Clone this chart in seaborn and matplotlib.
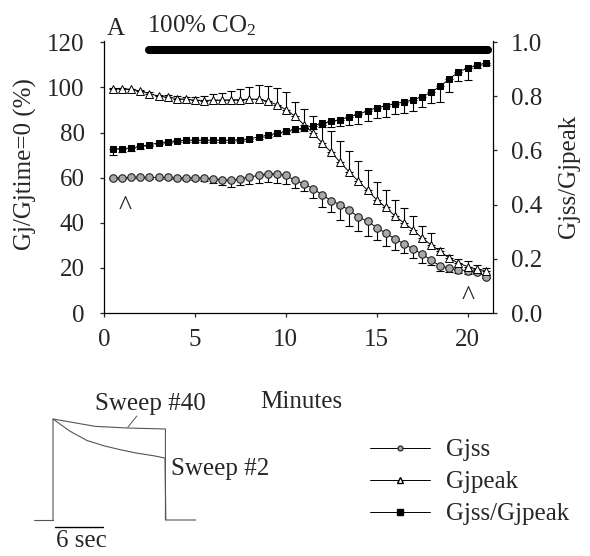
import matplotlib
matplotlib.use("Agg")
import matplotlib.pyplot as plt
from matplotlib.lines import Line2D
import numpy as np
import pandas as pd
import seaborn as sns

sns.set_style("ticks")
plt.rcParams['font.family'] = ['Liberation Serif', 'DejaVu Serif']
plt.rcParams['mathtext.fontset'] = 'custom'
plt.rcParams['mathtext.rm'] = 'Liberation Serif'
plt.rcParams['mathtext.it'] = 'Liberation Serif:italic'

# ---------------- data ----------------
minutes = [0.5, 1.0, 1.5, 2.0, 2.5, 3.0, 3.5, 4.0, 4.5, 5.0,
           5.5, 6.0, 6.5, 7.0, 7.5, 8.0, 8.5, 9.0, 9.5, 10.0,
           10.5, 11.0, 11.5, 12.0, 12.5, 13.0, 13.5, 14.0, 14.5, 15.0,
           15.5, 16.0, 16.5, 17.0, 17.5, 18.0, 18.5, 19.0, 19.5, 20.0,
           20.5, 21.0]
gjss = [60.0, 60.0, 60.2, 60.2, 60.1, 60.1, 60.1, 59.9, 59.9, 59.9,
        59.8, 59.6, 59.1, 58.8, 59.5, 60.3, 61.0, 61.8, 61.8, 61.0,
        58.8, 57.3, 55.1, 52.4, 49.8, 48.0, 45.5, 42.6, 40.6, 37.9,
        35.4, 32.9, 30.7, 28.3, 26.2, 23.3, 20.9, 19.9, 19.1, 18.8,
        18.4, 16.1]
gjss_err = [0.8, 0.6, 0.5, 0.5, 0.5, 0.5, 0.6, 0.7, 0.8, 1.0,
            1.3, 1.8, 2.5, 2.8, 2.8, 3.0, 3.4, 3.9, 4.1, 3.7,
            3.4, 3.4, 3.9, 5.2, 5.2, 6.7, 6.8, 6.4, 6.4, 5.5,
            5.6, 4.9, 4.1, 4.0, 3.9, 1.9, 2.1, 1.8, 1.5, 1.5,
            1.2, 0.8]
gjpeak = [99.5, 99.5, 99.1, 98.4, 97.3, 96.1, 95.7, 95.1, 94.7, 94.4,
          94.2, 94.4, 94.4, 94.5, 94.6, 94.8, 94.8, 93.9, 92.4, 90.2,
          87.3, 83.5, 79.8, 75.4, 71.3, 66.8, 62.4, 58.4, 54.4, 50.2,
          46.8, 43.1, 39.9, 36.9, 33.2, 30.2, 27.3, 24.3, 22.1, 20.6,
          19.4, 18.8]
gjpeak_err = [0.3, 0.3, 0.3, 0.3, 0.5, 0.5, 0.8, 1.0, 1.2, 1.5,
              2.0, 2.5, 3.3, 3.9, 4.7, 5.5, 6.1, 6.7, 7.4, 7.9,
              6.2, 7.0, 7.7, 8.1, 9.3, 9.3, 9.3, 8.9, 8.9, 8.1,
              7.6, 7.1, 6.7, 5.9, 5.5, 5.2, 1.5, 1.5, 2.0, 2.5,
              2.0, 1.0]
ratio = [0.605, 0.607, 0.609, 0.615, 0.621, 0.628, 0.632, 0.636, 0.638, 0.638,
         0.638, 0.638, 0.638, 0.638, 0.640, 0.643, 0.650, 0.656, 0.663, 0.670,
         0.678, 0.683, 0.691, 0.700, 0.707, 0.714, 0.724, 0.734, 0.746, 0.758,
         0.765, 0.773, 0.779, 0.786, 0.799, 0.814, 0.838, 0.863, 0.891, 0.903,
         0.914, 0.923]
ratio_err = [0.020, 0.012, 0.010, 0.008, 0.006, 0.006, 0.006, 0.006, 0.006, 0.006,
             0.006, 0.006, 0.006, 0.006, 0.006, 0.008, 0.008, 0.008, 0.008, 0.010,
             0.010, 0.012, 0.012, 0.015, 0.020, 0.025, 0.030, 0.035, 0.038, 0.039,
             0.040, 0.037, 0.039, 0.039, 0.038, 0.040, 0.059, 0.049, 0.034, 0.044,
             0.010, 0.008]

left_ticks = [0, 20, 40, 60, 80, 100, 120]
right_ticks = [0.0, 0.2, 0.4, 0.6, 0.8, 1.0]
right_ticklabels = ["0.0", "0.2", "0.4", "0.6", "0.8", "1.0"]
x_ticks = [0, 5, 10, 15, 20]

co2_span = [2.5, 21.15]
co2_level = 116.5
caret_x = [1.15, 20.05]
caret_y = [43.8, 4.2]

# inset traces (time in s, normalized current)
base_t = [-2.4, 0.0]
base_v = [0.0, 0.0]
sweep2_t = [0.0, 0.0, 2.15, 4.2, 6.3, 8.4, 10.4, 12.5, 13.9, 14.0, 14.1, 17.7]
sweep2_v = [0.0, 1.0, 0.877, 0.788, 0.735, 0.695, 0.662, 0.636, 0.613, 0.0, 0.0, 0.0]
sweep40_t = [0.0, 5.25, 9.2, 13.95, 13.95]
sweep40_v = [1.0, 0.927, 0.911, 0.901, 0.0]

df = pd.DataFrame({"Minutes": minutes, "Gjss": gjss, "Gjpeak": gjpeak,
                   "ratio": ratio})

W, H = 590, 556
fig = plt.figure(figsize=(W / 100, H / 100), dpi=100)


def fx(px):
    return px / W


def fy(py):
    return 1 - py / H


ax = fig.add_axes([fx(104), fy(313), fx(493) - fx(104), fy(41) - fy(313)])
ax2 = ax.twinx()

lw = 0.7
ax.errorbar(minutes, gjss, yerr=[gjss_err, [0] * len(gjss)], fmt='none',
            ecolor='black', elinewidth=0.8, capsize=3, capthick=0.8, zorder=2)
ax.errorbar(minutes, gjpeak, yerr=[[0] * len(gjpeak), gjpeak_err], fmt='none',
            ecolor='black', elinewidth=0.8, capsize=3, capthick=0.8, zorder=2)
sns.lineplot(data=df, x="Minutes", y="Gjss", ax=ax, color='black', lw=lw,
             marker='o', markersize=5.4, markerfacecolor='#a8a8a8',
             markeredgecolor='#222222', markeredgewidth=0.8, zorder=3)
sns.lineplot(data=df, x="Minutes", y="Gjpeak", ax=ax, color='black', lw=lw,
             marker='^', markersize=5.6, markerfacecolor='white',
             markeredgecolor='black', markeredgewidth=0.7, zorder=3)

ax2.errorbar(minutes, ratio, yerr=[ratio_err, [0] * len(ratio)], fmt='none',
             ecolor='black', elinewidth=0.8, capsize=3, capthick=0.8, zorder=2)
sns.lineplot(data=df, x="Minutes", y="ratio", ax=ax2, color='black', lw=lw,
             marker='s', markersize=5.0, markerfacecolor='black',
             markeredgecolor='black', zorder=3)

# 100% CO2 bar
ax.plot(co2_span, [co2_level, co2_level], color='black', lw=5.8,
        solid_capstyle='round', clip_on=False, zorder=4)

for cx, cy in zip(caret_x, caret_y):
    ax.text(cx, cy, "^", ha='center', va='baseline', fontsize=20)

ax.set_xlim(0, 21.4)
ax.set_ylim(0, 120.6)
ax2.set_ylim(0, 1.004)
ax.set_xticks(x_ticks)
ax.set_xticklabels([str(t) for t in x_ticks])
ax.set_yticks(left_ticks)
ax.set_yticklabels([str(t) for t in left_ticks])
ax2.set_yticks(right_ticks)
ax2.set_yticklabels(right_ticklabels)
ax.set_xlabel("")
ax.set_ylabel("")
ax2.set_ylabel("")

for a in (ax, ax2):
    a.spines['top'].set_visible(False)
    for s in a.spines.values():
        s.set_linewidth(0.9)
        s.set_color('black')
ax.spines['right'].set_visible(False)
ax2.spines['left'].set_visible(False)
ax2.spines['bottom'].set_visible(False)
ax2.spines['right'].set_visible(True)
ax.tick_params(axis='y', direction='out', length=3, width=0.9, labelsize=18, pad=11)
ax.tick_params(axis='x', direction='out', length=3, width=0.9, labelsize=18, pad=8.5)
ax2.tick_params(axis='y', direction='out', length=3, width=0.9, labelsize=18, pad=10)

# texts
fig.text(fx(107), fy(35), "A", fontsize=18, va='baseline', ha='left')
fig.text(fx(147), fy(32), "100% CO$_2$", fontsize=18, va='baseline', ha='left')
fig.text(fx(25), fy(164), "Gj/Gjtime=0 (%)", rotation=90, fontsize=18,
         ha='center', va='center')
fig.text(fx(569), fy(176), "Gjss/Gjpeak", rotation=90, fontsize=18,
         ha='center', va='center')
fig.text(fx(301), fy(402), "Minutes", fontsize=18, ha='center', va='center')

# legend
handles = [
    Line2D([], [], color='black', lw=0.7, marker='o', markersize=3.5,
           markerfacecolor='#a8a8a8', markeredgecolor='#333333'),
    Line2D([], [], color='black', lw=0.7, marker='^', markersize=4.2,
           markerfacecolor='white', markeredgecolor='black'),
    Line2D([], [], color='black', lw=0.7, marker='s', markersize=3.8,
           markerfacecolor='black', markeredgecolor='black'),
]
fig.legend(handles, ["Gjss", "Gjpeak", "Gjss/Gjpeak"], loc='center left',
           bbox_to_anchor=(fx(370), fy(482)), frameon=False, fontsize=18,
           handlelength=2.4, handletextpad=0.65, labelspacing=0.38,
           borderpad=0, borderaxespad=0)

# inset traces
ax3 = fig.add_axes([fx(20), fy(556), fx(270) - fx(20), fy(380) - fy(556)])
ax3.set_xlim((20 - 53) / 8.06, (270 - 53) / 8.06)
ax3.set_ylim((520 - 556) / 101, (520 - 380) / 101)
ax3.axis('off')
tc = '#555555'
sns.lineplot(x=base_t, y=base_v, ax=ax3, color=tc, lw=0.8, sort=False, estimator=None)
sns.lineplot(x=sweep2_t, y=sweep2_v, ax=ax3, color=tc, lw=0.8, sort=False, estimator=None)
sns.lineplot(x=sweep40_t, y=sweep40_v, ax=ax3, color=tc, lw=0.8, sort=False, estimator=None)
ax3.plot([9.3, 10.4], [0.92, 1.03], color=tc, lw=0.7)
ax3.plot([0.25, 6.2], [-0.069, -0.069], color='black', lw=1.0)
ax3.text(5.2, 1.15, "Sweep #40", fontsize=18, ha='left', va='center')
ax3.text(14.7, 0.5, "Sweep #2", fontsize=18, ha='left', va='center')
ax3.text(3.5, -0.21, "6 sec", fontsize=18, ha='center', va='center')

fig.savefig("out.png", dpi=100)
